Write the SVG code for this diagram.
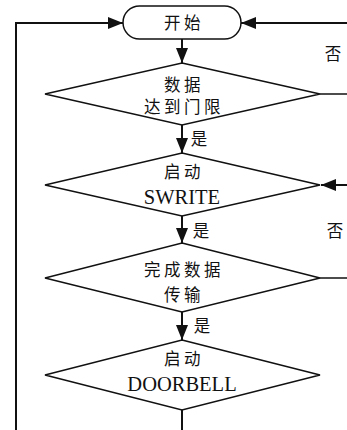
<svg xmlns="http://www.w3.org/2000/svg" width="347" height="430" viewBox="0 0 347 430">
<style>
.shape{fill:#fff;stroke:#111;stroke-width:1.5;stroke-linejoin:miter}
.conn{fill:none;stroke:#111;stroke-width:2}
.cn{font-family:"Noto Sans CJK SC","Liberation Sans",sans-serif;font-size:16.5px;letter-spacing:3.5px;fill:#111;text-anchor:middle}
.cnl{font-family:"Noto Sans CJK SC","Liberation Sans",sans-serif;font-size:16.5px;fill:#111;text-anchor:middle}
.en{font-family:"Liberation Serif","Times New Roman",serif;font-size:20.5px;fill:#111;text-anchor:middle}
</style>
<defs>
<marker id="arr" markerUnits="userSpaceOnUse" markerWidth="16" markerHeight="12" viewBox="0 0 16 12" refX="15" refY="6" orient="auto">
<path d="M0,0 L15,6 L0,12 Z" fill="#111"/>
</marker>
</defs>
<g id="connectors">
<line class="conn" x1="182" y1="39" x2="182" y2="63" marker-end="url(#arr)"/>
<line class="conn" x1="182" y1="125" x2="182" y2="153" marker-end="url(#arr)"/>
<line class="conn" x1="182" y1="216" x2="182" y2="243" marker-end="url(#arr)"/>
<line class="conn" x1="182" y1="312" x2="182" y2="340" marker-end="url(#arr)"/>
<polyline class="conn" points="182,410 182,432"/>
<polyline class="conn" points="16,432 16,23 123,23" marker-end="url(#arr)"/>
<line class="conn" x1="349" y1="23" x2="241" y2="23" marker-end="url(#arr)"/>
<line class="conn" x1="320" y1="94" x2="349" y2="94" style="stroke-width:1.5"/>
<line class="conn" x1="349" y1="185" x2="321" y2="185" marker-end="url(#arr)"/>
<line class="conn" x1="320" y1="278" x2="349" y2="278" style="stroke-width:1.5"/>
<text class="cnl" x="199" y="145">是</text>
<text class="cnl" x="201" y="237">是</text>
<text class="cnl" x="202" y="332">是</text>
<text class="cnl" x="333" y="60">否</text>
<text class="cnl" x="335" y="237">否</text>
</g>
<g id="start">
<rect class="shape" x="123" y="6" width="118" height="33" rx="16.5" ry="16.5"/>
<text class="cn" x="184" y="28.5">开始</text>
</g>
<g id="d1">
<polygon class="shape" points="182,63 320,94 182,125 45,94"/>
<text class="cn" x="184" y="90.5">数据</text>
<text class="cn" x="184" y="112.5">达到门限</text>
</g>
<g id="d2">
<polygon class="shape" points="182,153 320,185 182,216 45,185"/>
<text class="cn" x="184" y="177.5">启动</text>
<text class="en" x="182" y="204">SWRITE</text>
</g>
<g id="d3">
<polygon class="shape" points="182,243 320,278 182,312 45,278"/>
<text class="cn" x="184" y="275.5">完成数据</text>
<text class="cn" x="184" y="300.5">传输</text>
</g>
<g id="d4">
<polygon class="shape" points="182,340 320,375 182,410 45,375"/>
<text class="cn" x="184" y="365">启动</text>
<text class="en" x="182" y="391">DOORBELL</text>
</g>
</svg>
